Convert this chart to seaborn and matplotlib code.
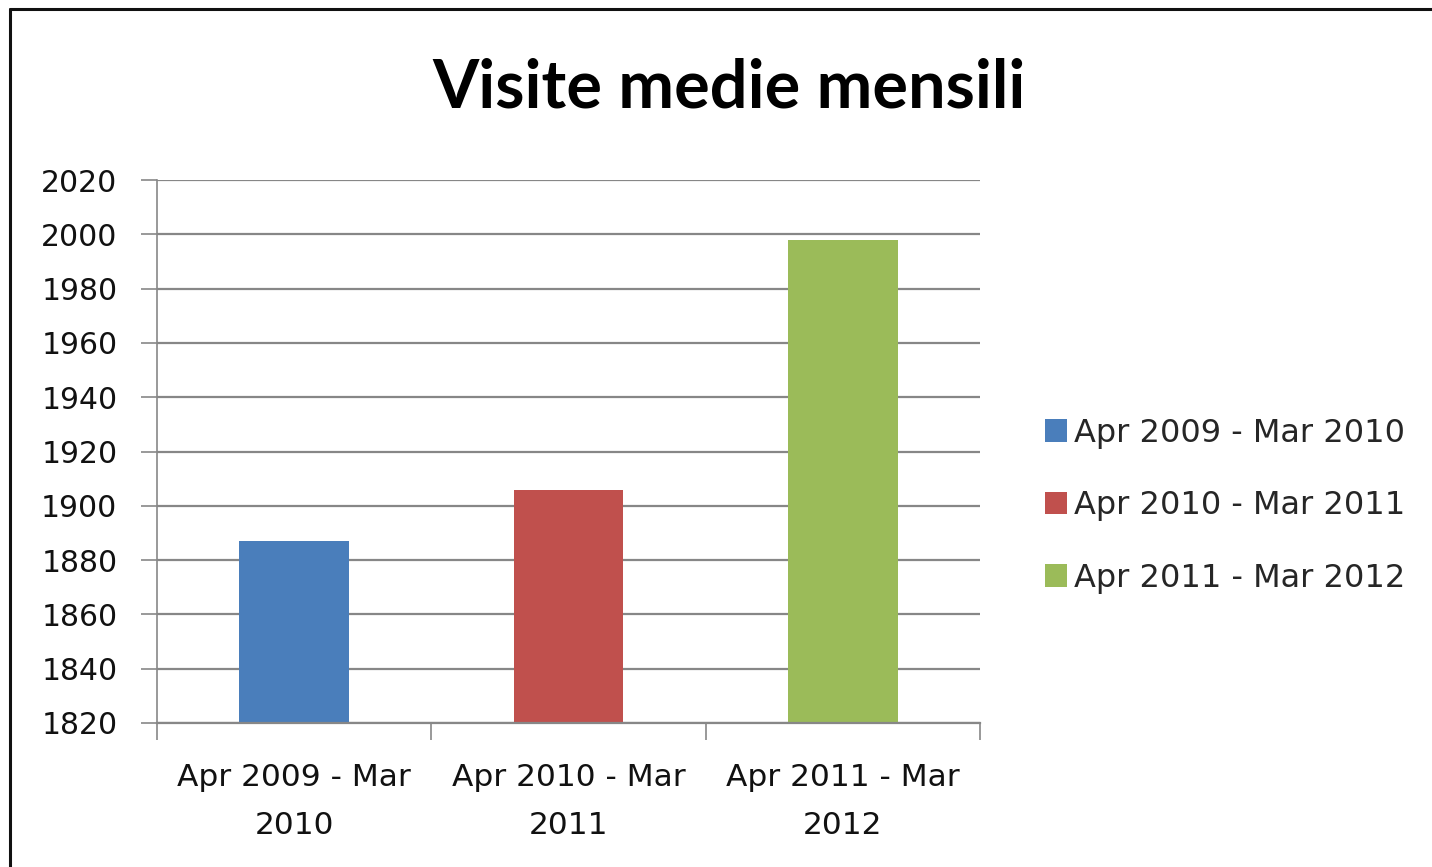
import matplotlib
matplotlib.use("Agg")
import matplotlib.pyplot as plt
import seaborn as sns
import pandas as pd
from matplotlib.lines import Line2D

periods = ["Apr 2009 - Mar 2010", "Apr 2010 - Mar 2011", "Apr 2011 - Mar 2012"]
tick_labels = ["Apr 2009 - Mar\n2010", "Apr 2010 - Mar\n2011", "Apr 2011 - Mar\n2012"]
visits = [1887, 1906, 1998]
colors = ["#4a7ebb", "#c0504d", "#9bbb59"]
y_ticks = [1820, 1840, 1860, 1880, 1900, 1920, 1940, 1960, 1980, 2000, 2020]

sns.set_theme(style="white")
plt.rcParams["font.family"] = ["DejaVu Sans"]

df = pd.DataFrame({"period": periods, "visits": visits})

W, H = 1432, 867
fig = plt.figure(figsize=(W / 100, H / 100), dpi=100)
ax = fig.add_axes([157 / W, 1 - 723 / H, (980 - 157) / W, (723 - 180) / H])

sns.barplot(data=df, x="period", y="visits", hue="period", palette=colors,
            dodge=False, width=0.4, ax=ax, legend=True, saturation=1,
            linewidth=0, edgecolor="none")

ax.set_ylim(1820, 2020)
ax.set_xlim(-0.5, 2.5)
ax.set_yticks(y_ticks)
ax.set_yticklabels([str(v) for v in y_ticks], fontsize=21.5, color="#111111")
ax.yaxis.grid(True, color="#878787", linewidth=1.6)
ax.set_axisbelow(True)
ax.set_xlabel("")
ax.set_ylabel("")

for s in ["top", "right"]:
    ax.spines[s].set_visible(False)
ax.spines["left"].set_color("#878787")
ax.spines["left"].set_linewidth(1.2)
ax.spines["bottom"].set_color("#878787")
ax.spines["bottom"].set_linewidth(1.6)

ax.tick_params(axis="y", left=True, length=11.5, color="#878787", width=1.2, pad=17)
ax.set_xticks([-0.5, 0.5, 1.5, 2.5])
ax.set_xticklabels([])
ax.tick_params(axis="x", bottom=True, length=12, color="#878787", width=1.2, direction="out")

for i, lab in enumerate(tick_labels):
    ax.annotate(lab, xy=(i, 0), xycoords=("data", "axes fraction"),
                xytext=(0, -29), textcoords="offset points",
                ha="center", va="top", fontsize=22.5, color="#111111",
                linespacing=1.8, annotation_clip=False)

ax.legend(loc="center left", bbox_to_anchor=(1.079, 0.40), frameon=False,
          fontsize=23, handlelength=0.7, handleheight=0.7, handletextpad=0.2,
          labelspacing=1.3, borderaxespad=0, borderpad=0)

fig.text(0.509, 1 - 88 / H, "Visite medie mensili", ha="center", va="center",
         fontsize=48, fontweight="bold", color="#000000", family="Lato")

# chart frame (top and left edges visible in the reference)
fig.add_artist(Line2D([10 / W, 1.0], [1 - 9 / H, 1 - 9 / H], transform=fig.transFigure,
                      color="#111111", linewidth=2.2))
fig.add_artist(Line2D([10 / W, 10 / W], [0, 1 - 9 / H], transform=fig.transFigure,
                      color="#111111", linewidth=2.2))

fig.savefig("out.png", dpi=100, facecolor="white")
